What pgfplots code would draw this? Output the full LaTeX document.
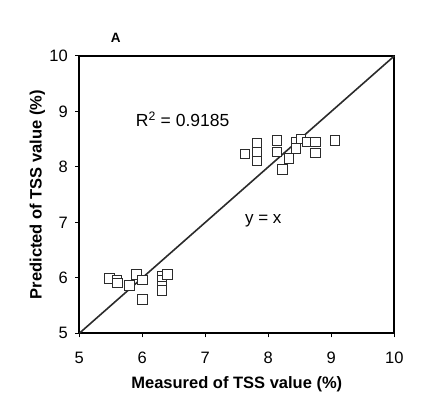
\documentclass[border=0pt]{standalone}
\usepackage{fontspec}
\setmainfont{Liberation Sans}
\usepackage{pgfplots}
\pgfplotsset{compat=1.18}
\definecolor{dk}{HTML}{2B2B2B}
\begin{document}
\begin{tikzpicture}
\useasboundingbox (-79.3pt,-81.7pt) rectangle (344.7pt,333.3pt);
\begin{axis}[
  scale only axis, width=315pt, height=277.3pt,
  xmin=5, xmax=10, ymin=5, ymax=10,
  xtick={5,6,7,8,9,10}, ytick={5,6,7,8,9,10},
  tick align=outside, tick pos=left, major tick length=4pt,
  axis line style={line width=1.6pt},
  tick style={line width=1pt, black},
  ticklabel style={font=\fontsize{16.5}{18}\selectfont},
  xticklabel style={yshift=-11pt},
  yticklabel style={xshift=-4pt},
  /pgf/number format/assume math mode=true,
  xlabel={Measured of TSS value (\%)},
  ylabel={Predicted of TSS value (\%)},
  label style={font=\bfseries\fontsize{16.5}{18}\selectfont},
  xlabel style={at={(axis description cs:0.5,-0.183)}, anchor=center},
  ylabel style={at={(axis description cs:-0.133,0.5)}, anchor=center, rotate=0},
  clip=false,
]
\addplot[dk, line width=1.6pt] coordinates {(5,5) (10,10)};
\addplot[only marks, mark=square*, mark size=4.8pt, mark options={fill=white, draw=dk, line width=1pt}] coordinates {
(5.48,5.99) (5.60,5.96) (5.61,5.91) (5.80,5.86) (5.91,6.06) (6.00,5.96)
(6.00,5.61) (6.31,6.03) (6.31,5.96) (6.31,5.85) (6.31,5.77) (6.40,6.06)
(7.63,8.23) (7.82,8.42) (7.82,8.27) (7.82,8.11) (8.14,8.48) (8.14,8.27)
(8.23,7.95) (8.33,8.15) (8.44,8.45) (8.44,8.33) (8.52,8.50) (8.62,8.45)
(8.75,8.45) (8.75,8.25) (9.06,8.48)
};
\node[font=\fontsize{17.5}{19}\selectfont] at (axis cs:6.64,8.86) {R\textsuperscript{2} = 0.9185};
\node[font=\fontsize{17}{19}\selectfont] at (axis cs:7.92,7.02) {y = x};
\node[font=\bfseries\fontsize{13.5}{15}\selectfont] at (axis cs:5.58,10.32) {A};
\end{axis}
\end{tikzpicture}
\end{document}
